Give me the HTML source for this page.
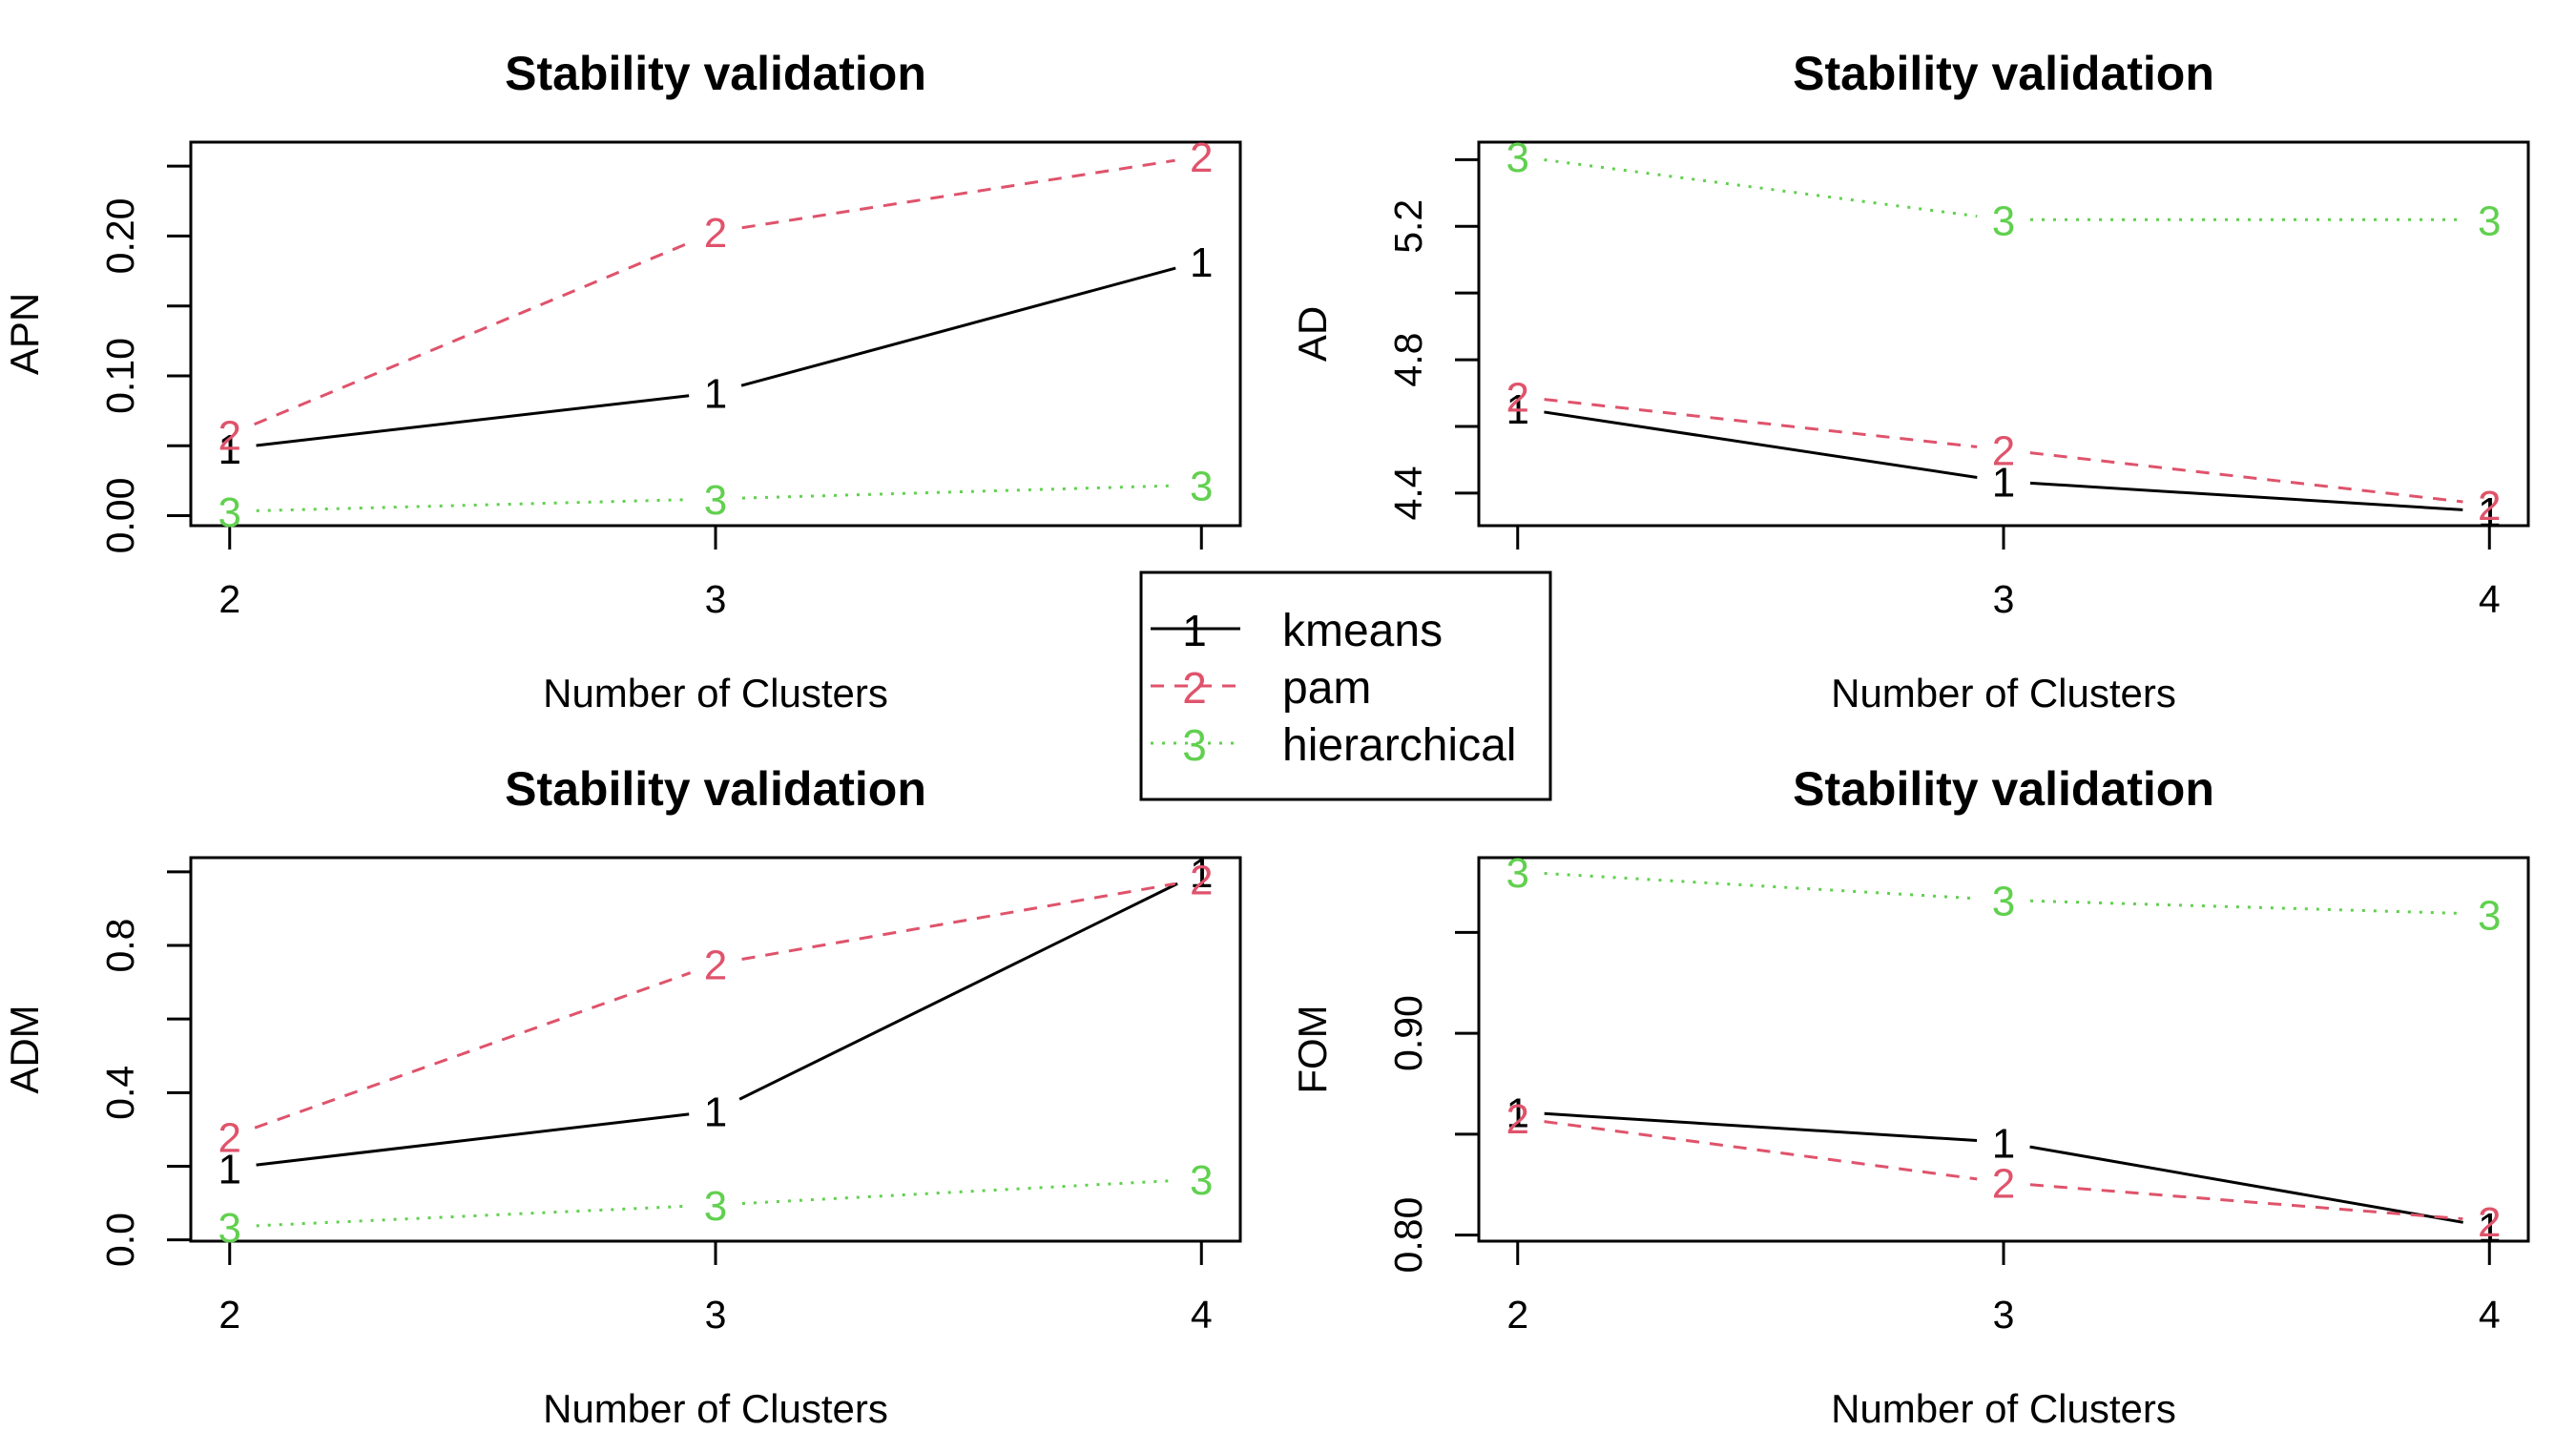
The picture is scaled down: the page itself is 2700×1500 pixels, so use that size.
<!DOCTYPE html>
<html><head><meta charset="utf-8"><style>
html,body{margin:0;padding:0;background:#fff;}
svg{display:block;font-family:"Liberation Sans",Arial,sans-serif;}
</style></head><body>
<svg id="chart" width="2700" height="1500" viewBox="0 0 2700 1500" xmlns="http://www.w3.org/2000/svg"></svg>
<script>
const clusters = [2, 3, 4];
const methods = ["kmeans", "pam", "hierarchical"];
const apnKmeans = [0.048, 0.088, 0.182];
const apnPam = [0.058, 0.203, 0.257];
const apnHier = [0.003, 0.012, 0.022];
const adKmeans = [4.655, 4.435, 4.345];
const adPam = [4.69, 4.53, 4.365];
const adHier = [5.41, 5.22, 5.22];
const admKmeans = [0.195, 0.35, 1.0];
const admPam = [0.28, 0.75, 0.98];
const admHier = [0.035, 0.095, 0.165];
const fomKmeans = [0.861, 0.846, 0.804];
const fomPam = [0.858, 0.826, 0.807];
const fomHier = [0.980, 0.966, 0.959];
const apnTicks = [0, 0.05, 0.10, 0.15, 0.20, 0.25];
const apnLabels = ["0.00", "", "0.10", "", "0.20", ""];
const adTicks = [4.4, 4.6, 4.8, 5.0, 5.2, 5.4];
const adLabels = ["4.4", "", "4.8", "", "5.2", ""];
const admTicks = [0, 0.2, 0.4, 0.6, 0.8, 1.0];
const admLabels = ["0.0", "", "0.4", "", "0.8", ""];
const fomTicks = [0.80, 0.85, 0.90, 0.95];
const fomLabels = ["0.80", "", "0.90", ""];

const NS = "http://www.w3.org/2000/svg";
const svg = document.getElementById("chart");
const colors = ["#000000", "#DF536B", "#61D04F"];
const dashes = ["none", "14 11", "3 9"];
function mk(tag, attrs, parent) {
  const e = document.createElementNS(NS, tag);
  for (const k in attrs) e.setAttribute(k, attrs[k]);
  (parent || svg).appendChild(e);
  return e;
}
function panel(ox, oy, key, yname, series, ticks, labels) {
  const g = mk("g", {});
  
  
  const L = ox + 200, R = ox + 1300, T = oy + 149, B = oy + 551;
  const all = [].concat(...series);
  let mn = Math.min(...all), mx = Math.max(...all);
  const pad = (mx - mn) * 0.04; mn -= pad; mx += pad;
  const xs = v => L + (v - 2 + 0.08) / 2.16 * (R - L);
  const ys = v => B - (v - mn) / (mx - mn) * (B - T);
  const t = mk("text", {x: (L + R) / 2, y: oy + 94, "text-anchor": "middle", "font-size": 50, "font-weight": "bold"}, g);
  t.textContent = "Stability validation";
  
  
  const box = mk("rect", {x: L, y: T, width: R - L, height: B - T, fill: "none", stroke: "#000", "stroke-width": 3}, g);
  
  
  clusters.forEach(c => {
    const x = xs(c);
    const tk = mk("line", {x1: x, x2: x, y1: B, y2: B + 25, stroke: "#000", "stroke-width": 3}, g);
    
    
    const tl = mk("text", {x: x, y: B + 91, "text-anchor": "middle", "font-size": 41}, g);
    tl.textContent = c;
    
    
  });
  ticks.forEach((v, i) => {
    const y = ys(v);
    const tk = mk("line", {x1: L - 25, x2: L, y1: y, y2: y, stroke: "#000", "stroke-width": 3}, g);
    
    
    if (labels[i]) {
      const tl = mk("text", {x: 0, y: 0, "text-anchor": "middle", "font-size": 41, transform: `translate(${ox + 140},${y}) rotate(-90)`}, g);
      tl.textContent = labels[i];
      
      
    }
  });
  const xl = mk("text", {x: (L + R) / 2, y: oy + 741, "text-anchor": "middle", "font-size": 42}, g);
  xl.textContent = "Number of Clusters";
  
  
  const yl = mk("text", {x: 0, y: 0, "text-anchor": "middle", "font-size": 42, transform: `translate(${ox + 40},${(T + B) / 2}) rotate(-90)`}, g);
  yl.textContent = yname;
  
  
  series.forEach((vals, si) => {
    for (let i = 0; i < vals.length - 1; i++) {
      const x1 = xs(clusters[i]), y1 = ys(vals[i]), x2 = xs(clusters[i + 1]), y2 = ys(vals[i + 1]);
      const dx = x2 - x1, dy = y2 - y1, len = Math.hypot(dx, dy), gap = 28;
      const seg = mk("line", {x1: x1 + dx / len * gap, y1: y1 + dy / len * gap, x2: x2 - dx / len * gap, y2: y2 - dy / len * gap,
        stroke: colors[si], "stroke-width": 3, "stroke-dasharray": dashes[si]}, g);
      
      
    }
    vals.forEach((v, i) => {
      const p = mk("text", {x: xs(clusters[i]), y: ys(v) + 16, "text-anchor": "middle", "font-size": 44, fill: colors[si]}, g);
      p.textContent = String(si + 1);
      
      
    });
  });
}
panel(0, 0, "apn", "APN", [apnKmeans, apnPam, apnHier], apnTicks, apnLabels);
panel(1350, 0, "ad", "AD", [adKmeans, adPam, adHier], adTicks, adLabels);
panel(0, 750, "adm", "ADM", [admKmeans, admPam, admHier], admTicks, admLabels);
panel(1350, 750, "fom", "FOM", [fomKmeans, fomPam, fomHier], fomTicks, fomLabels);

const lg = mk("g", {});


const lb = mk("rect", {x: 1196, y: 600, width: 429, height: 238, fill: "#fff", stroke: "#000", "stroke-width": 3}, lg);


methods.forEach((m, i) => {
  const y = 659 + i * 60;
  const ln = mk("line", {x1: 1206, x2: 1300, y1: y, y2: y, stroke: colors[i], "stroke-width": 3, "stroke-dasharray": dashes[i]}, lg);
  
  
  const d = mk("text", {x: 1252, y: y + 18, "text-anchor": "middle", "font-size": 46, fill: colors[i]}, lg);
  d.textContent = String(i + 1);
  
  
  const tx = mk("text", {x: 1344, y: y + 18, "font-size": 48}, lg);
  tx.textContent = m;
  
  
});
</script>
</body></html>
